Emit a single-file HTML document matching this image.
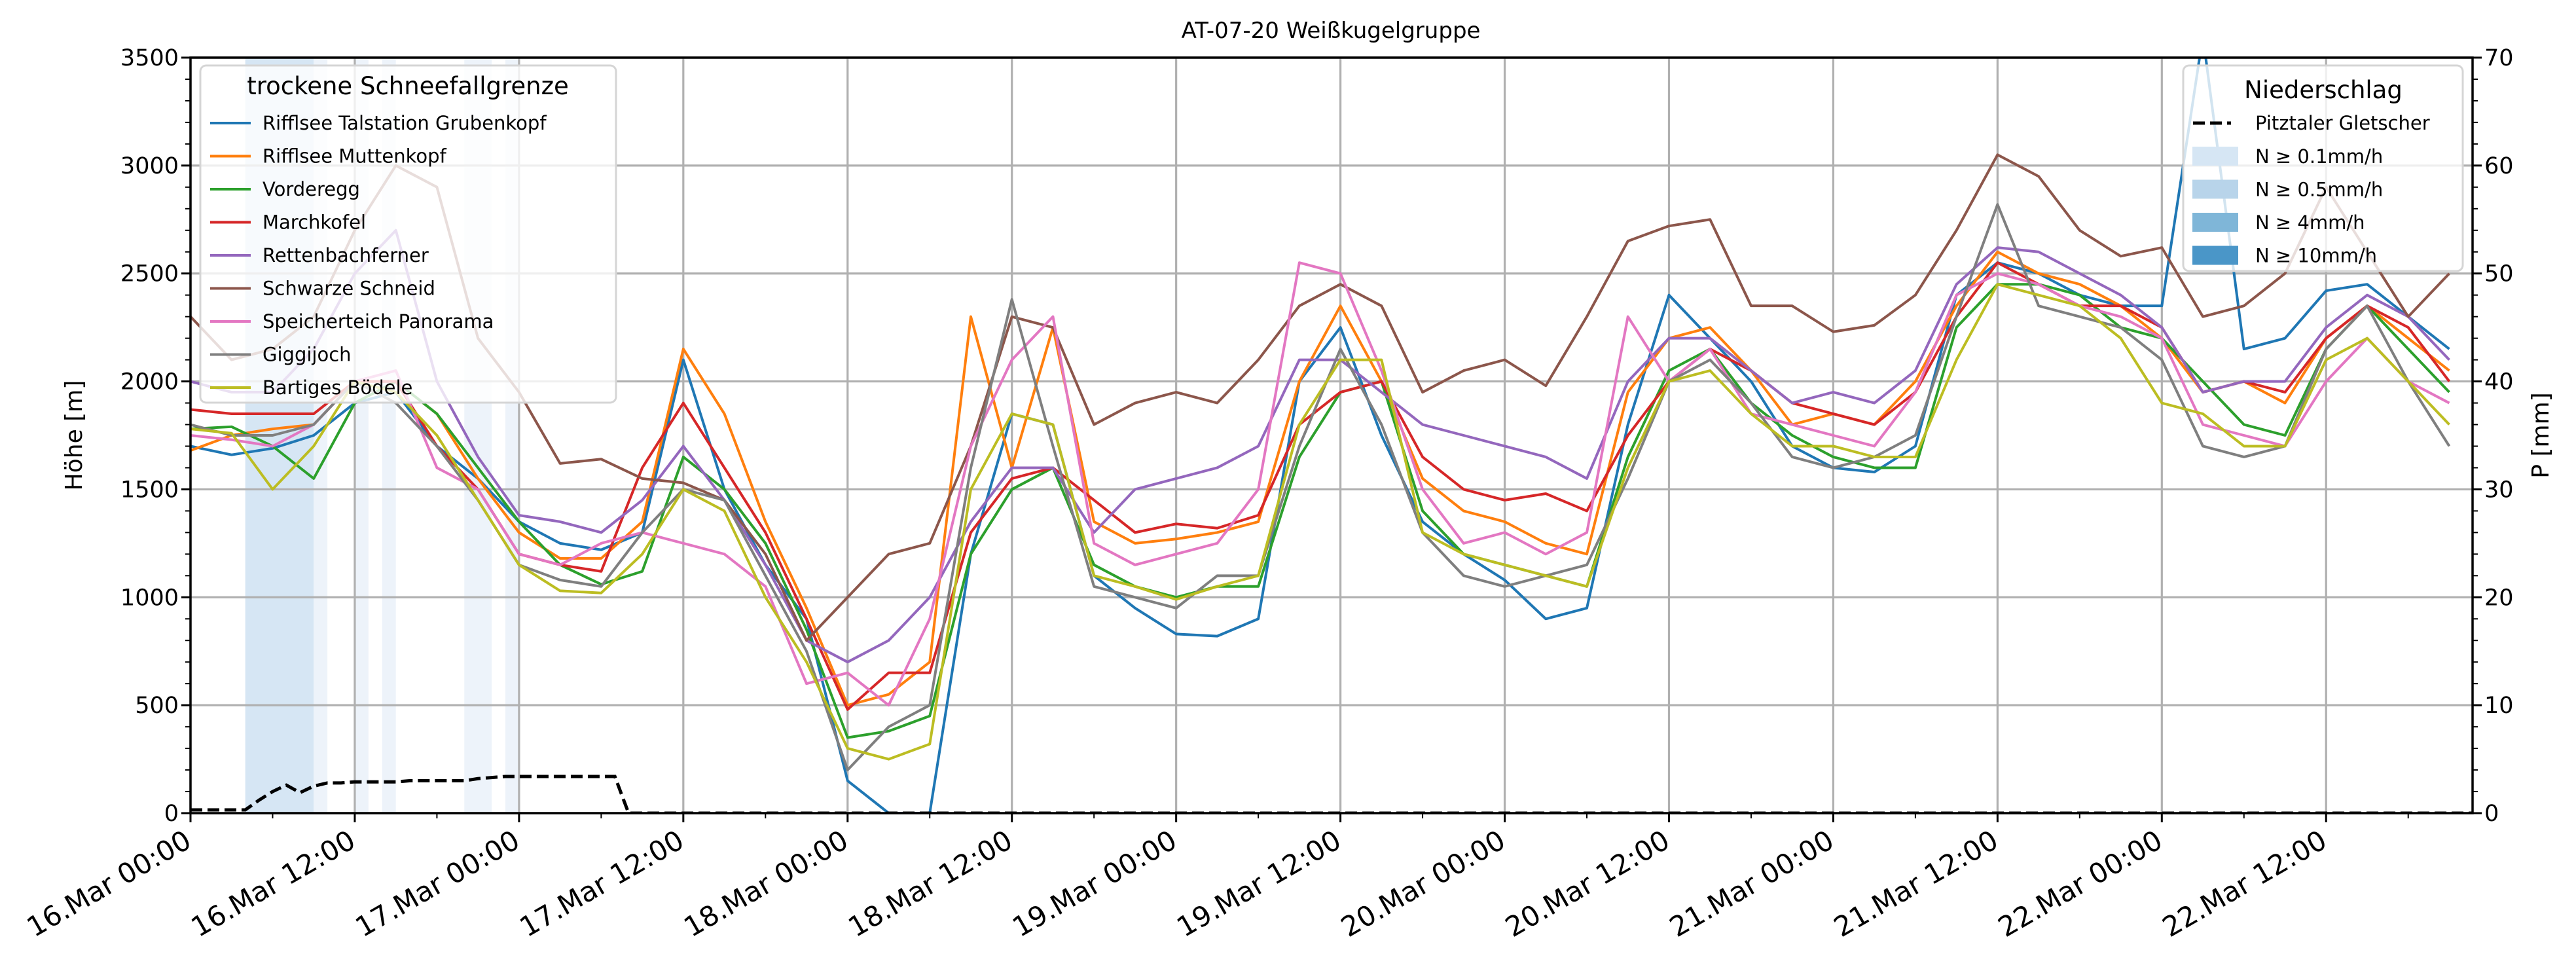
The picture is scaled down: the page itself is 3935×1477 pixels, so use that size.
<!DOCTYPE html>
<html><head><meta charset="utf-8"><style>
body{margin:0;background:#fff;}
svg{display:block;font-family:"DejaVu Sans","Liberation Sans",sans-serif;}
</style></head><body>
<svg id="chart" width="3935" height="1477" viewBox="0 0 3935 1477">
<text x="2033" y="58" font-size="34" text-anchor="middle">AT-07-20 Weißkugelgruppe</text>
<defs><clipPath id="pc"><rect x="291" y="88" width="3486" height="1154"/></clipPath></defs>
<g id="bands" clip-path="url(#pc)"></g>
<g id="grid"></g>
<g id="lines" clip-path="url(#pc)"></g>
<g id="axes"></g>
<text transform="translate(125,665) rotate(-90)" font-size="36" text-anchor="middle">Höhe [m]</text>
<text transform="translate(3893,665) rotate(-90)" font-size="36" text-anchor="middle">P [mm]</text>
<g id="legL"></g>
<g id="legR"></g>
</svg>
<script>
const hours=[0,3,6,9,12,15,18,21,24,27,30,33,36,39,42,45,48,51,54,57,60,63,66,69,72,75,78,81,84,87,90,93,96,99,102,105,108,111,114,117,120,123,126,129,132,135,138,141,144,147,150,153,156,159,162,165];
const seriesNames=["Rifflsee Talstation Grubenkopf","Rifflsee Muttenkopf","Vorderegg","Marchkofel","Rettenbachferner","Schwarze Schneid","Speicherteich Panorama","Giggijoch","Bartiges Bödele"];
const seriesColors=["#1f77b4","#ff7f0e","#2ca02c","#d62728","#9467bd","#8c564b","#e377c2","#7f7f7f","#bcbd22"];
const sBlue=[1700,1660,1690,1750,1900,1950,1700,1550,1350,1250,1220,1300,2100,1500,1150,900,150,0,0,1200,1850,1800,1100,950,830,820,900,2000,2250,1750,1350,1200,1080,900,950,1800,2400,2200,2000,1700,1600,1580,1700,2400,2550,2500,2400,2350,2350,3600,2150,2200,2420,2450,2300,2150];
const sOrange=[1680,1750,1780,1800,2000,2000,1850,1550,1300,1180,1180,1350,2150,1850,1350,950,500,550,700,2300,1600,2250,1350,1250,1270,1300,1350,2000,2350,2000,1550,1400,1350,1250,1200,1950,2200,2250,2050,1800,1850,1800,2000,2350,2600,2500,2450,2350,2200,1950,2000,1900,2200,2350,2200,2050];
const sGreen=[1780,1790,1700,1550,1900,2000,1850,1600,1350,1150,1060,1120,1650,1500,1250,850,350,380,450,1200,1500,1600,1150,1050,1000,1050,1050,1650,1950,2000,1400,1200,1150,1100,1050,1650,2050,2150,1900,1750,1650,1600,1600,2250,2450,2450,2400,2250,2200,2000,1800,1750,2150,2350,2150,1950];
const sRed=[1870,1850,1850,1850,2000,2000,1700,1500,1200,1150,1120,1600,1900,1600,1300,900,480,650,650,1300,1550,1600,1450,1300,1340,1320,1380,1800,1950,2000,1650,1500,1450,1480,1400,1750,2000,2150,2050,1900,1850,1800,1950,2300,2550,2450,2350,2350,2250,1950,2000,1950,2200,2350,2250,2000];
const sPurple=[2000,1950,1950,2150,2500,2700,2000,1650,1380,1350,1300,1450,1700,1450,1150,800,700,800,1000,1350,1600,1600,1300,1500,1550,1600,1700,2100,2100,1950,1800,1750,1700,1650,1550,2000,2200,2200,2050,1900,1950,1900,2050,2450,2620,2600,2500,2400,2250,1950,2000,2000,2250,2400,2300,2100];
const sBrown=[2300,2100,2150,2300,2700,3000,2900,2200,1950,1620,1640,1550,1530,1450,1200,800,1000,1200,1250,1700,2300,2250,1800,1900,1950,1900,2100,2350,2450,2350,1950,2050,2100,1980,2300,2650,2720,2750,2350,2350,2230,2260,2400,2700,3050,2950,2700,2580,2620,2300,2350,2500,2900,2600,2300,2500];
const sPink=[1750,1730,1700,1800,2000,2050,1600,1500,1200,1150,1250,1300,1250,1200,1050,600,650,500,900,1700,2100,2300,1250,1150,1200,1250,1500,2550,2500,2050,1500,1250,1300,1200,1300,2300,2000,2150,1850,1800,1750,1700,1950,2400,2500,2450,2350,2300,2200,1800,1750,1700,2000,2200,2000,1900];
const sGrey=[1800,1750,1750,1800,2000,1900,1700,1450,1150,1080,1050,1300,1500,1450,1100,750,200,400,500,1600,2380,1700,1050,1000,950,1100,1100,1700,2150,1800,1300,1100,1050,1100,1150,1550,2000,2100,1900,1650,1600,1650,1750,2300,2820,2350,2300,2250,2100,1700,1650,1700,2150,2350,2000,1700];
const sOlive=[1780,1760,1500,1700,2000,1950,1750,1450,1150,1030,1020,1200,1500,1400,1000,700,300,250,320,1500,1850,1800,1100,1050,990,1050,1100,1800,2100,2100,1300,1200,1150,1100,1050,1600,2000,2050,1850,1700,1700,1650,1650,2100,2450,2400,2350,2200,1900,1850,1700,1700,2100,2200,2000,1800];
const seriesValues=[sBlue,sOrange,sGreen,sRed,sPurple,sBrown,sPink,sGrey,sOlive];
const precipHours=[0,1,2,3,4,5,6,7,8,9,10,11,12,13,14,15,16,17,18,19,20,21,22,23,24,25,26,27,28,29,30,31,32,166.7];
const precipValues=[0.3,0.3,0.3,0.3,0.3,1.2,2.0,2.6,1.9,2.5,2.8,2.8,2.9,2.9,2.9,2.9,3.0,3.0,3.0,3.0,3.0,3.2,3.3,3.4,3.4,3.4,3.4,3.4,3.4,3.4,3.4,3.4,0,0];
const bandStart=[4,9,12,14,20,23];
const bandEnd=[9,10,13,15,22,24];
const bandLevel=[1,0,0,0,0,0];
const yTicks=[0,500,1000,1500,2000,2500,3000,3500];
const y2Ticks=[0,10,20,30,40,50,60,70];
const xTickHours=[0,12,24,36,48,60,72,84,96,108,120,132,144,156];
const xTickLabels=["16.Mar 00:00","16.Mar 12:00","17.Mar 00:00","17.Mar 12:00","18.Mar 00:00","18.Mar 12:00","19.Mar 00:00","19.Mar 12:00","20.Mar 00:00","20.Mar 12:00","21.Mar 00:00","21.Mar 12:00","22.Mar 00:00","22.Mar 12:00"];

const L=291,R=3777,T=88,B=1242,HMAX=166.7;
const X=h=>L+(h/HMAX)*(R-L);
const Y=v=>B-(v/3500)*(B-T);
const Y2=v=>B-(v/70)*(B-T);
const NS="http://www.w3.org/2000/svg";
function mk(tag,attrs,parent){const e=document.createElementNS(NS,tag);for(const k in attrs)e.setAttribute(k,attrs[k]);parent.appendChild(e);return e;}
const gB=document.getElementById('bands'),gG=document.getElementById('grid'),gL=document.getElementById('lines'),gA=document.getElementById('axes');
const bandColors=["#edf3fa","#d6e6f4","#7fb6d8","#4a96c8"];
bandStart.forEach((s,i)=>{
  const r=mk('rect',{x:X(s),y:T,width:X(bandEnd[i])-X(s),height:B-T,fill:bandColors[bandLevel[i]]},gB);
  
  
});
yTicks.forEach(v=>{
  const l=mk('line',{x1:L,x2:R,y1:Y(v),y2:Y(v),stroke:"#b0b0b0","stroke-width":3.2},gG);
  
  
  const t=mk('text',{x:L-18,y:Y(v)+12,"font-size":35,"text-anchor":"end"},gA);t.textContent=v;
  
  
  mk('line',{x1:L-14,x2:L,y1:Y(v),y2:Y(v),stroke:"#000","stroke-width":3},gA);
});
for(let v=100;v<3500;v+=100){if(v%500)mk('line',{x1:L-8,x2:L,y1:Y(v),y2:Y(v),stroke:"#000","stroke-width":2},gA);}
y2Ticks.forEach(v=>{
  const t=mk('text',{x:R+18,y:Y2(v)+12,"font-size":35},gA);t.textContent=v;
  
  
  mk('line',{x1:R,x2:R+14,y1:Y2(v),y2:Y2(v),stroke:"#000","stroke-width":3},gA);
});
for(let v=2;v<70;v+=2){if(v%10)mk('line',{x1:R,x2:R+8,y1:Y2(v),y2:Y2(v),stroke:"#000","stroke-width":2},gA);}
xTickHours.forEach((h,i)=>{
  if(h>0){const l=mk('line',{x1:X(h),x2:X(h),y1:T,y2:B,stroke:"#b0b0b0","stroke-width":3.2},gG);
  
  }
  mk('line',{x1:X(h),x2:X(h),y1:B,y2:B+14,stroke:"#000","stroke-width":3},gA);
  mk('line',{x1:X(h+6),x2:X(h+6),y1:B,y2:B+8,stroke:"#000","stroke-width":2},gA);
  const t=mk('text',{transform:`translate(${X(h)+4},${B+50}) rotate(-30)`,"font-size":42,"text-anchor":"end"},gA);
  t.textContent=xTickLabels[i];
  
  
});
seriesValues.forEach((vals,i)=>{
  const p=mk('polyline',{points:vals.map((v,j)=>X(hours[j])+","+Y(v)).join(" "),fill:"none",stroke:seriesColors[i],"stroke-width":4,"stroke-linejoin":"round"},gL);
  
  
});
const pl=mk('polyline',{points:precipValues.map((v,j)=>X(precipHours[j])+","+Y2(v)).join(" "),fill:"none",stroke:"#000","stroke-width":5,"stroke-dasharray":"18,8"},gL);


mk('rect',{x:L,y:T,width:R-L,height:B-T,fill:"none",stroke:"#000","stroke-width":3.5},gA);

const gl=document.getElementById('legL');
mk('rect',{x:306,y:100,width:635,height:515,rx:9,fill:"rgba(255,255,255,0.8)",stroke:"#d5d5d5","stroke-width":3},gl);
const lt=mk('text',{x:623,y:144,"font-size":37,"text-anchor":"middle"},gl);lt.textContent="trockene Schneefallgrenze";


seriesNames.forEach((n,i)=>{
  const y=188+i*50.5;
  mk('line',{x1:321,x2:383,y1:y,y2:y,stroke:seriesColors[i],"stroke-width":4},gl);
  const t=mk('text',{x:401,y:y+10,"font-size":29},gl);t.textContent=n;
  
  
});
const gr=document.getElementById('legR');
mk('rect',{x:3335,y:100,width:427,height:314,rx:9,fill:"rgba(255,255,255,0.8)",stroke:"#d5d5d5","stroke-width":3},gr);
const rt=mk('text',{x:3549,y:150,"font-size":37,"text-anchor":"middle"},gr);rt.textContent="Niederschlag";


mk('line',{x1:3350,x2:3408,y1:188,y2:188,stroke:"#000","stroke-width":5,"stroke-dasharray":"18,8"},gr);
const pt=mk('text',{x:3445,y:198,"font-size":29},gr);pt.textContent="Pitztaler Gletscher";


const legFill=["#d6e6f4","#b8d4ea","#7fb6d8","#4a96c8"];
const legTxt=["N ≥ 0.1mm/h","N ≥ 0.5mm/h","N ≥ 4mm/h","N ≥ 10mm/h"];
legTxt.forEach((s,i)=>{
  const y=238+i*50.5;
  mk('rect',{x:3349,y:y-14,width:70,height:29,fill:legFill[i]},gr);
  const t=mk('text',{x:3445,y:y+11,"font-size":29},gr);t.textContent=s;
  
  
});
</script>
</body></html>
